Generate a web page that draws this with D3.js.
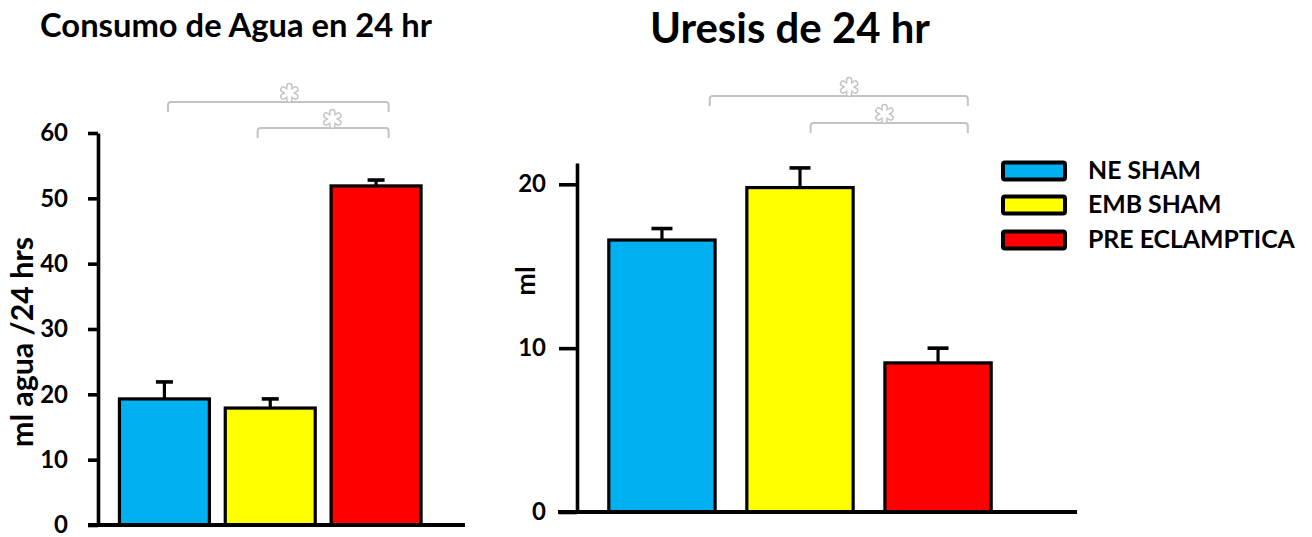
<!DOCTYPE html>
<html>
<head>
<meta charset="utf-8">
<script src="https://cdn.jsdelivr.net/npm/d3@7"></script>
<style>
  html, body { margin: 0; padding: 0; background: #fff; }
  svg { display: block; }
  text { font-family: Lato, "Open Sans", sans-serif; font-weight: 700; fill: #000; }
</style>
</head>
<body>
<svg id="chart" width="1312" height="537"></svg>
<script>
// ---------------- DATA ----------------
const categories = ["NE SHAM", "EMB SHAM", "PRE ECLAMPTICA"];
const barColors = ["#00B0F0", "#FFFF00", "#FF0000"];

const aguaTitle = "Consumo de Agua en 24 hr";
const aguaYLabel = "ml agua /24 hrs";
const aguaMeans = [19.3, 17.9, 51.9];
const aguaErrors = [2.6, 1.4, 0.9];
const aguaTicks = [0, 10, 20, 30, 40, 50, 60];
const aguaComparisons = [[0, 2], [1, 2]];

const uresisTitle = "Uresis de 24 hr";
const uresisYLabel = "ml";
const uresisMeans = [16.6, 19.8, 9.1];
const uresisErrors = [0.7, 1.2, 0.9];
const uresisTicks = [0, 10, 20];
const uresisComparisons = [[0, 2], [1, 2]];

const significanceMark = "*";

// ---------------- LAYOUT ----------------
const svg = d3.select("#chart");
const grey = "#c3c3c3";

function fitText(sel, target) {
  const base = parseFloat(sel.style("font-size"));
  const w = sel.node().getComputedTextLength();
  sel.style("font-size", (base * target / w) + "px");
}

function drawStar(g, cx, cy, r) {
  const angles = [90, 30, 150];
  const segs = angles.map(a => {
    const rad = a * Math.PI / 180;
    return [cx - r * Math.cos(rad), cy - r * Math.sin(rad), cx + r * Math.cos(rad), cy + r * Math.sin(rad)];
  });
  g.selectAll(null).data(segs).enter().append("line")
    .attr("x1", d => d[0]).attr("y1", d => d[1]).attr("x2", d => d[2]).attr("y2", d => d[3])
    .attr("stroke", grey).attr("stroke-width", 6.5).attr("stroke-linecap", "round");
  g.selectAll(null).data(segs).enter().append("line")
    .attr("x1", d => d[0]).attr("y1", d => d[1]).attr("x2", d => d[2]).attr("y2", d => d[3])
    .attr("stroke", "#fff").attr("stroke-width", 3.6).attr("stroke-linecap", "round");
}

function drawPanel(cfg) {
  const g = svg.append("g");
  const x = d3.scaleBand().domain(categories).range(cfg.xRange)
    .paddingInner(cfg.padInner).paddingOuter(cfg.padOuter);
  const y = d3.scaleLinear().domain([0, cfg.axisMax]).range([cfg.y0, cfg.yTop]);

  // title
  const t = g.append("text").attr("x", cfg.titleX).attr("y", cfg.titleY)
    .attr("text-anchor", "middle").style("font-size", "30px").text(cfg.title);
  fitText(t, cfg.titleW);

  // y label
  const yl = g.append("text")
    .attr("transform", `translate(${cfg.yLabelX},${cfg.yLabelY}) rotate(-90)`)
    .attr("text-anchor", "middle").style("font-size", "26px").text(cfg.yLabel);
  if (cfg.yLabelW) fitText(yl, cfg.yLabelW); else yl.style("font-size", cfg.yLabelSize + "px");

  // bars
  g.selectAll("rect.bar").data(cfg.means).enter().append("rect")
    .attr("class", "bar")
    .attr("x", (d, i) => x(categories[i]))
    .attr("y", d => y(d))
    .attr("width", x.bandwidth())
    .attr("height", d => y(0) - y(d))
    .attr("fill", (d, i) => barColors[i])
    .attr("stroke", "#000").attr("stroke-width", 3.2);

  // error bars
  const eb = g.selectAll("g.err").data(cfg.means).enter().append("g");
  eb.append("line")
    .attr("x1", (d, i) => x(categories[i]) + x.bandwidth() / 2)
    .attr("x2", (d, i) => x(categories[i]) + x.bandwidth() / 2)
    .attr("y1", d => y(d))
    .attr("y2", (d, i) => y(d + cfg.errors[i]))
    .attr("stroke", "#000").attr("stroke-width", 3.2);
  eb.append("line")
    .attr("x1", (d, i) => x(categories[i]) + x.bandwidth() / 2 - cfg.capW / 2)
    .attr("x2", (d, i) => x(categories[i]) + x.bandwidth() / 2 + cfg.capW / 2)
    .attr("y1", (d, i) => y(d + cfg.errors[i]))
    .attr("y2", (d, i) => y(d + cfg.errors[i]))
    .attr("stroke", "#000").attr("stroke-width", 3.6);

  // y axis
  const axis = d3.axisLeft(y).tickValues(cfg.ticks).tickSize(cfg.tickLen)
    .tickSizeOuter(0).tickPadding(cfg.tickPad).tickFormat(d3.format("d"));
  const ag = g.append("g").attr("transform", `translate(${cfg.axisX},0)`).call(axis);
  ag.select(".domain").attr("stroke", "#000").attr("stroke-width", 3.6);
  ag.selectAll(".tick line").attr("stroke", "#000").attr("stroke-width", 3.6);
  ag.selectAll(".tick text").attr("fill", "#000")
    .style("font-family", "Lato, sans-serif").style("font-weight", 700)
    .style("font-size", cfg.tickFont + "px");

  // x axis line
  g.append("line").attr("x1", cfg.xAxisFrom).attr("x2", cfg.xAxisTo)
    .attr("y1", y(0)).attr("y2", y(0))
    .attr("stroke", "#000").attr("stroke-width", 3.8);

  // significance brackets
  cfg.comparisons.forEach((c, k) => {
    const xa = x(categories[c[0]]) + x.bandwidth() * cfg.brFrac[k][0];
    const xb = x(categories[c[1]]) + x.bandwidth() * cfg.brFrac[k][1];
    const yb = cfg.brY[k], drop = cfg.brDrop, r = 3;
    const p = d3.path();
    p.moveTo(xa, yb + drop);
    p.lineTo(xa, yb + r);
    p.quadraticCurveTo(xa, yb, xa + r, yb);
    p.lineTo(xb - r, yb);
    p.quadraticCurveTo(xb, yb, xb, yb + r);
    p.lineTo(xb, yb + drop);
    g.append("path").attr("d", p.toString()).attr("fill", "none")
      .attr("stroke", grey).attr("stroke-width", 2);
    const sx = xa + (xb - xa) * cfg.starFrac[k];
    drawStar(g, sx, yb - 9, 7);
  });
  return { x, y };
}

drawPanel({
  title: aguaTitle, titleX: 236, titleY: 37, titleW: 392,
  yLabel: aguaYLabel, yLabelX: 33, yLabelY: 342, yLabelW: 210,
  means: aguaMeans, errors: aguaErrors, ticks: aguaTicks, comparisons: aguaComparisons,
  axisMax: 60, y0: 525, yTop: 133,
  xRange: [111.5, 429], padInner: 0.15, padOuter: 0.075,
  axisX: 98, tickLen: 10, tickPad: 20, tickFont: 24,
  xAxisFrom: 88, xAxisTo: 465, capW: 17,
  brFrac: [[0.54, 0.64], [0.36, 0.64]], brY: [102, 128], brDrop: 10,
  starFrac: [0.55, 0.57]
});

drawPanel({
  title: uresisTitle, titleX: 790, titleY: 43, titleW: 280,
  yLabel: uresisYLabel, yLabelX: 535, yLabelY: 281, yLabelSize: 27,
  means: uresisMeans, errors: uresisErrors, ticks: uresisTicks, comparisons: uresisComparisons,
  axisMax: 21.3, y0: 512, yTop: 163 + 0,
  xRange: [595, 1005], padInner: 0.23, padOuter: 0.1,
  axisX: 577, tickLen: 18, tickPad: 13, tickFont: 24,
  xAxisFrom: 558, xAxisTo: 1077, capW: 21,
  brFrac: [[0.95, 0.78], [0.6, 0.78]], brY: [96, 123], brDrop: 10,
  starFrac: [0.54, 0.47]
});

// ---------------- LEGEND ----------------
const legend = svg.append("g");
const legendY = [171, 205, 240];
legend.selectAll("rect").data(categories).enter().append("rect")
  .attr("x", 1003).attr("y", (d, i) => legendY[i] - 8.5)
  .attr("width", 62).attr("height", 17).attr("rx", 2)
  .attr("fill", (d, i) => barColors[i])
  .attr("stroke", "#000").attr("stroke-width", 4);
const lt = legend.selectAll("text").data(categories).enter().append("text")
  .attr("x", 1088).attr("y", (d, i) => legendY[i] - 2)
  .attr("dominant-baseline", "central")
  .style("font-size", "20px").text(d => d);
{
  const longest = lt.filter((d, i) => i === 2);
  fitText(longest, 207);
  lt.style("font-size", longest.style("font-size"));
}
</script>
</body>
</html>
